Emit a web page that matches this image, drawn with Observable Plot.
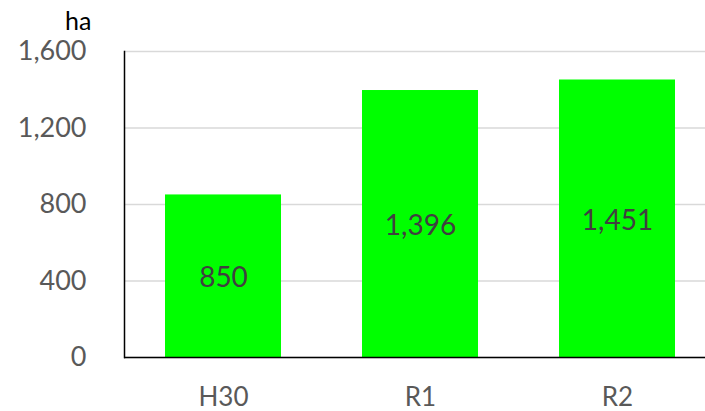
<!DOCTYPE html>
<html>
<head>
<meta charset="utf-8">
<script src="https://cdn.jsdelivr.net/npm/d3@7"></script>
<script src="https://cdn.jsdelivr.net/npm/@observablehq/plot@0.6"></script>
<style>
  html, body { margin: 0; padding: 0; background: #fff; }
  #chart svg { display: block; }
</style>
</head>
<body>
<div id="chart"></div>
<script>
const categories = ["H30", "R1", "R2"];
const values = [850, 1396, 1451];
const yTicks = [0, 400, 800, 1200, 1600];
const unitLabel = "ha";

const data = categories.map((c, i) => ({category: c, value: values[i]}));
const fmt = d3.format(",");

const chart = Plot.plot({
  width: 705,
  height: 411,
  marginLeft: 124,
  marginRight: 0,
  marginTop: 51,
  marginBottom: 54,
  style: {fontFamily: "Lato, sans-serif", background: "#fff"},
  x: {domain: categories, range: [124, 716], paddingInner: 0.412, paddingOuter: 0.206},
  y: {domain: [0, 1600], ticks: yTicks},
  marks: [
    Plot.gridY(yTicks, {stroke: "#d9d9d9", strokeOpacity: 1, strokeWidth: 1.5}),
    Plot.barY(data, {x: "category", y: "value", fill: "#00ff00"}),
    Plot.text(data, {x: "category", y: d => d.value / 2, text: d => fmt(d.value), fill: "#404040", fontSize: 28, dy: 2}),
    Plot.axisY(yTicks, {tickSize: 0, tickPadding: 38, tickFormat: fmt, fontSize: 27, fill: "#595959", label: null}),
    Plot.axisX({tickSize: 0, tickPadding: 30, fontSize: 26, fill: "#595959", label: null}),
    Plot.ruleY([0], {stroke: "#000", strokeWidth: 1.5}),
    Plot.frame({anchor: "left", stroke: "#000", strokeWidth: 1.5}),
    Plot.text([unitLabel], {frameAnchor: "top-left", dx: -33, dy: -22, textAnchor: "end", lineAnchor: "bottom", fontSize: 25, fill: "#000"})
  ]
});
document.getElementById("chart").appendChild(chart);
</script>
</body>
</html>
